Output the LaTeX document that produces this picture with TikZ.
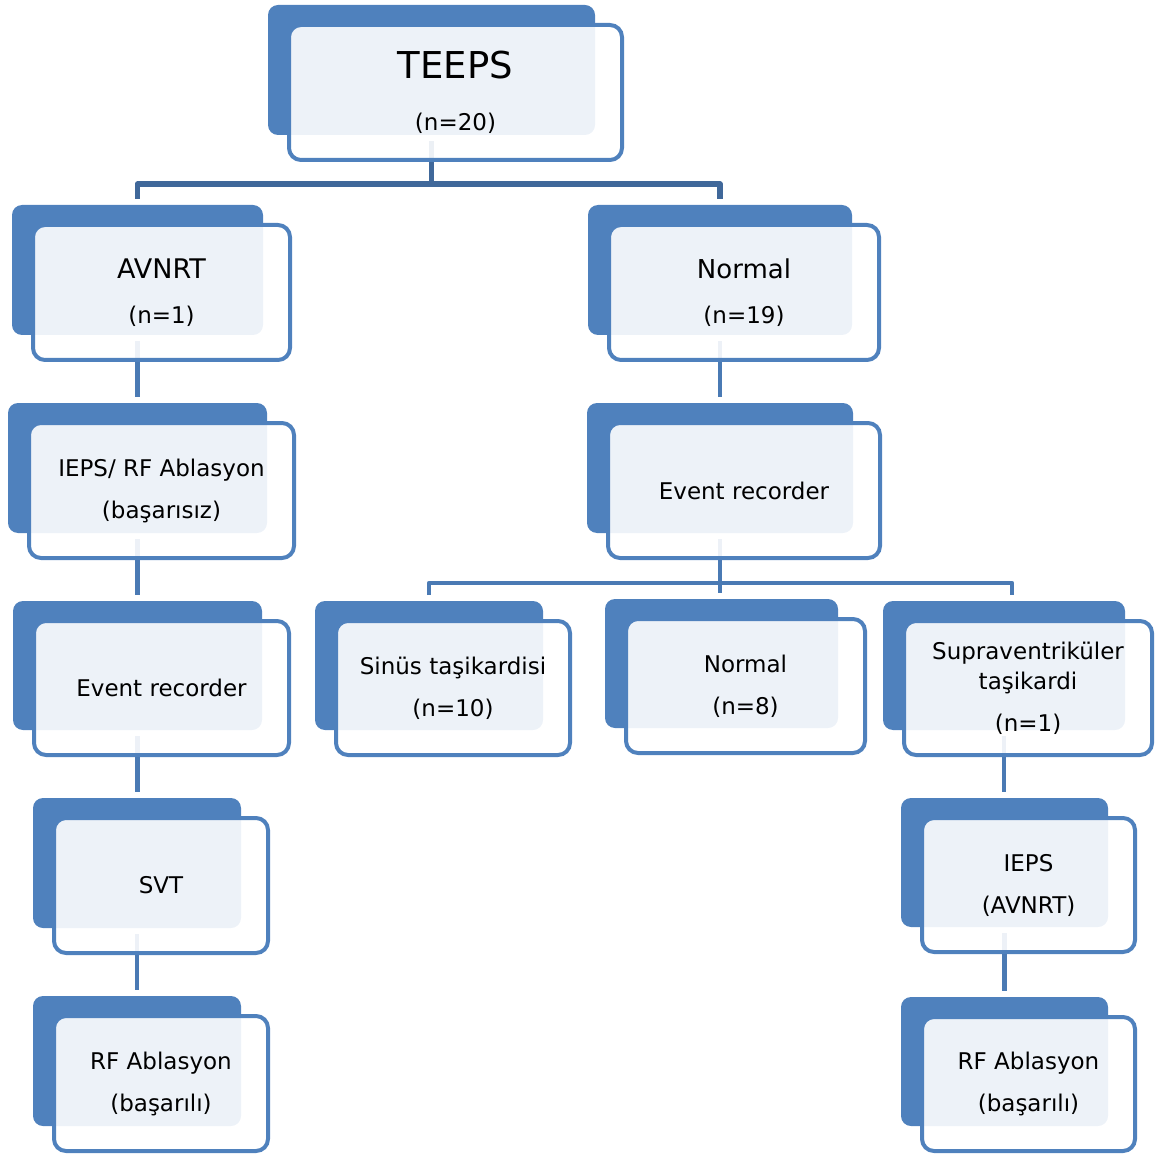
\documentclass[tikz,border=0pt]{standalone}
\usepackage{fontspec}
\setmainfont{DejaVu Sans}
\pgfdeclarelayer{background}
\pgfsetlayers{background,main}
\definecolor{boxblue}{RGB}{79,129,189}
\definecolor{linkdark}{RGB}{64,104,154}
\definecolor{linkblue}{RGB}{74,122,180}
\tikzset{
  backbox/.style={fill=boxblue, rounded corners=10pt, inner sep=0pt, outer sep=0pt},
  frontbox/.style={draw=boxblue, line width=4pt, fill=white, fill opacity=0.9,
    text opacity=1, rounded corners=12pt, inner sep=0pt, align=center, text=black},
  link/.style={draw=linkblue, line width=4.5pt},
  toplink/.style={draw=linkdark, line width=5.5pt, line join=round},
  body/.style={font=\fontsize{23}{42}\selectfont},
}
% one hierarchy box: name, back corners x1 y1 x2 y2, node options, text
\newcommand\smbox[7]{%
  \pgfmathsetmacro\bw{#4-#2}\pgfmathsetmacro\bh{#5-#3}%
  \pgfmathsetmacro\fw{#4-#2+6}\pgfmathsetmacro\fh{#5-#3+5}%
  \pgfmathsetmacro\bcx{(#2+#4)/2}\pgfmathsetmacro\bcy{(#3+#5)/2}%
  \pgfmathsetmacro\fcx{\bcx+24}\pgfmathsetmacro\fcy{\bcy+22.5}%
  \node[backbox, minimum width=\bw pt, minimum height=\bh pt] (#1-back) at (\bcx,\bcy) {};
  \node[frontbox, minimum width=\fw pt, minimum height=\fh pt, #6] (#1) at (\fcx,\fcy) {#7};
}
\begin{document}
\begin{tikzpicture}[x=1pt, y=-1pt]
\useasboundingbox (0,0) rectangle (1167,1155);

\smbox{teeps}{268}{5}{595}{135}{}{\fontsize{37}{44}\selectfont TEEPS\\[33pt]\fontsize{23}{26}\selectfont (n=20)}
\smbox{avnrt}{12}{205}{263}{335}{}{\fontsize{27}{32}\selectfont AVNRT\\[26pt]\fontsize{23}{26}\selectfont (n=1)}
\smbox{normal}{588}{205}{852}{335}{}{\fontsize{26}{32}\selectfont Normal\\[26pt]\fontsize{23}{26}\selectfont (n=19)}
\smbox{ieps1}{8}{403}{267}{533}{body}{IEPS/ RF Ablasyon\\(başarısız)}
\smbox{event2}{587}{403}{853}{533}{body}{Event recorder}
\smbox{event1}{13}{601}{262}{730}{body}{Event recorder}
\smbox{svt}{33}{798}{241}{928}{body}{SVT}
\smbox{rf1}{33}{996}{241}{1126}{body}{RF Ablasyon\\(başarılı)}
\smbox{sinus}{315}{601}{543}{730}{body}{Sinüs taşikardisi\\(n=10)}
\smbox{normal8}{605}{599}{838}{728}{body}{Normal\\(n=8)}
\smbox{supra}{883}{601}{1125}{730}{font=\fontsize{23}{30}\selectfont}{Supraventriküler\\taşikardi\\[12pt](n=1)}
\smbox{ieps2}{901}{798}{1108}{927}{body}{IEPS\\(AVNRT)}
\smbox{rf2}{901}{997}{1108}{1126}{body}{RF Ablasyon\\(başarılı)}

\coordinate (fork1) at (0,184);
\coordinate (fork2) at (0,583);
\coordinate (supra-in) at (1012,601);

\begin{pgfonlayer}{background}
  % first level
  \draw[toplink] ([yshift=-6pt]teeps-back.south) -- (teeps-back.south |- fork1);
  \draw[toplink] ([yshift=6pt]avnrt-back.north) -- (avnrt-back.north |- fork1)
    -- (normal-back.north |- fork1) -- ([yshift=6pt]normal-back.north);
  % left chain
  \draw[link] ([yshift=-6pt]avnrt-back.south) -- ([yshift=6pt]avnrt-back.south |- ieps1-back.north);
  \draw[link] ([yshift=-6pt]ieps1-back.south) -- ([yshift=6pt]ieps1-back.south |- event1-back.north);
  \draw[link] ([yshift=-6pt]event1-back.south) -- ([yshift=6pt]event1-back.south |- svt-back.north);
  \draw[link] ([yshift=-6pt]svt-back.south) -- ([yshift=6pt]svt-back.south |- rf1-back.north);
  % right branch
  \draw[link] ([yshift=-6pt]normal-back.south) -- ([yshift=6pt]normal-back.south |- event2-back.north);
  \draw[link] ([yshift=-6pt]event2-back.south) -- ([yshift=6pt]event2-back.south |- normal8-back.north);
  \draw[link, line join=round] ([yshift=6pt]sinus-back.north) -- (sinus-back.north |- fork2)
    -- (supra-in |- fork2) -- ([yshift=6pt]supra-in);
  \draw[link] ([yshift=-6pt]supra-back.south) -- ([yshift=6pt]supra-back.south |- ieps2-back.north);
  \draw[link] ([yshift=-6pt]ieps2-back.south) -- ([yshift=6pt]ieps2-back.south |- rf2-back.north);
\end{pgfonlayer}
\end{tikzpicture}
\end{document}
